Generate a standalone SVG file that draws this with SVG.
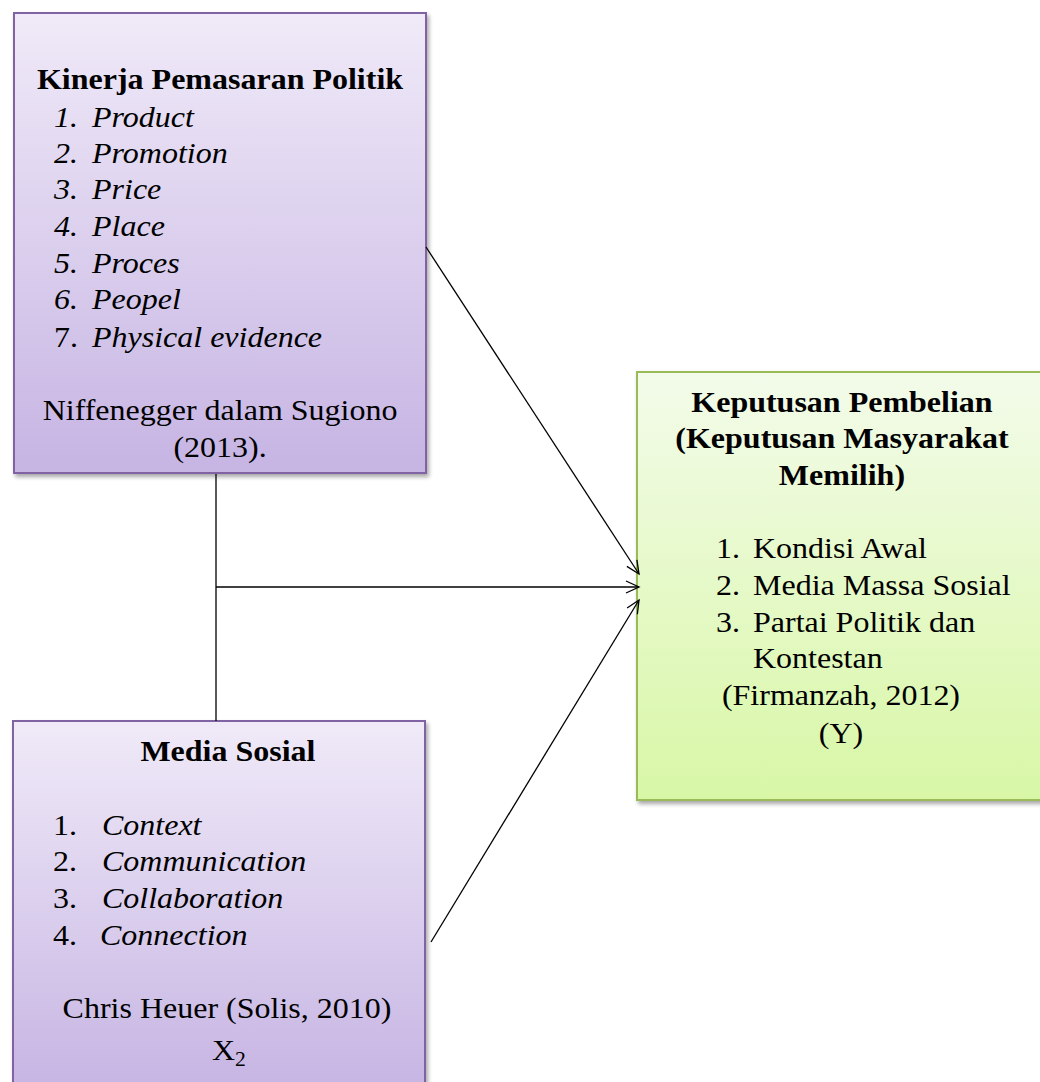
<svg xmlns="http://www.w3.org/2000/svg" width="1040" height="1082" viewBox="0 0 1040 1082">
  <style>
    text { font-family: "Liberation Serif", "Times New Roman", serif; font-size: 29.5px; fill: #000; }
    .b { font-weight: bold; }
    .i { font-style: italic; }
    .c { text-anchor: middle; }
    .purple { fill: url(#gPurple); stroke: #8064a2; stroke-width: 2; }
    .green { fill: url(#gGreen); stroke: #9bbb59; stroke-width: 2; }
    .conn { stroke: #000; stroke-width: 1.3; fill: none; }
  </style>
  <defs>
    <linearGradient id="gPurple" x1="0" y1="0" x2="0" y2="1">
      <stop offset="0" stop-color="#f0eaf8"/>
      <stop offset="1" stop-color="#c6b4e3"/>
    </linearGradient>
    <linearGradient id="gGreen" x1="0" y1="0" x2="0" y2="1">
      <stop offset="0" stop-color="#f3fbea"/>
      <stop offset="1" stop-color="#d8f7a6"/>
    </linearGradient>
    <filter id="sh" x="-10%" y="-10%" width="130%" height="130%">
      <feGaussianBlur in="SourceAlpha" stdDeviation="2"/>
      <feOffset dx="2" dy="3" result="o"/>
      <feComponentTransfer><feFuncA type="linear" slope="0.35"/></feComponentTransfer>
      <feMerge><feMergeNode/><feMergeNode in="SourceGraphic"/></feMerge>
    </filter>
    <marker id="arr" markerWidth="16" markerHeight="14" refX="14" refY="7" orient="auto" markerUnits="userSpaceOnUse">
      <path d="M1,1 L14,7 L1,13" fill="none" stroke="#000" stroke-width="1.3"/>
    </marker>
  </defs>

  <g id="node-kinerja">
    <rect class="purple" x="14" y="13" width="412" height="460" filter="url(#sh)"/>
    <g transform="scale(1.085,1)">
      <text class="b c" x="202.8" y="89">Kinerja Pemasaran Politik</text>
      <text class="i" x="49.8" y="127">1.</text><text class="i" x="84.8" y="127">Product</text>
      <text class="i" x="49.8" y="163">2.</text><text class="i" x="84.8" y="163">Promotion</text>
      <text class="i" x="49.8" y="199">3.</text><text class="i" x="84.8" y="199">Price</text>
      <text class="i" x="49.8" y="236">4.</text><text class="i" x="84.8" y="236">Place</text>
      <text class="i" x="49.8" y="273">5.</text><text class="i" x="84.8" y="273">Proces</text>
      <text class="i" x="49.8" y="309">6.</text><text class="i" x="84.8" y="309">Peopel</text>
      <text x="49.8" y="347">7.</text><text class="i" x="84.8" y="347">Physical evidence</text>
      <text class="c" x="202.8" y="420">Niffenegger dalam Sugiono</text>
      <text class="c" x="202.8" y="457">(2013).</text>
    </g>
  </g>

  <g id="node-keputusan">
    <rect class="green" x="637" y="372" width="410" height="428" filter="url(#sh)"/>
    <g transform="scale(1.085,1)">
      <text class="b c" x="776" y="412">Keputusan Pembelian</text>
      <text class="b c" x="776" y="448">(Keputusan Masyarakat</text>
      <text class="b c" x="776" y="485">Memilih)</text>
      <text x="659.9" y="558">1.</text><text x="694" y="558">Kondisi Awal</text>
      <text x="659.9" y="595">2.</text><text x="694" y="595">Media Massa Sosial</text>
      <text x="659.9" y="632">3.</text><text x="694" y="632">Partai Politik dan</text>
      <text x="694" y="668">Kontestan</text>
      <text class="c" x="775.1" y="705">(Firmanzah, 2012)</text>
      <text class="c" x="775.1" y="743">(Y)</text>
    </g>
  </g>

  <g id="node-media">
    <rect class="purple" x="13" y="721" width="412" height="372" filter="url(#sh)"/>
    <g transform="scale(1.085,1)">
      <text class="b c" x="210.1" y="761">Media Sosial</text>
      <text x="48.8" y="835">1.</text><text class="i" x="94" y="835">Context</text>
      <text x="48.8" y="871">2.</text><text class="i" x="94" y="871">Communication</text>
      <text x="48.8" y="908">3.</text><text class="i" x="94" y="908">Collaboration</text>
      <text x="48.8" y="945">4.</text><text class="i" x="92.2" y="945">Connection</text>
      <text class="c" x="209.2" y="1018">Chris Heuer (Solis, 2010)</text>
      <text x="195.4" y="1060">X<tspan font-size="20" dy="6">2</tspan></text>
    </g>
  </g>

  <g id="connectors">
    <line class="conn" x1="216" y1="474" x2="216" y2="721"/>
    <line class="conn" x1="426" y1="247" x2="639" y2="574" marker-end="url(#arr)"/>
    <line class="conn" x1="216" y1="587" x2="639" y2="587" marker-end="url(#arr)"/>
    <line class="conn" x1="431" y1="942" x2="639" y2="600" marker-end="url(#arr)"/>
  </g>
</svg>
